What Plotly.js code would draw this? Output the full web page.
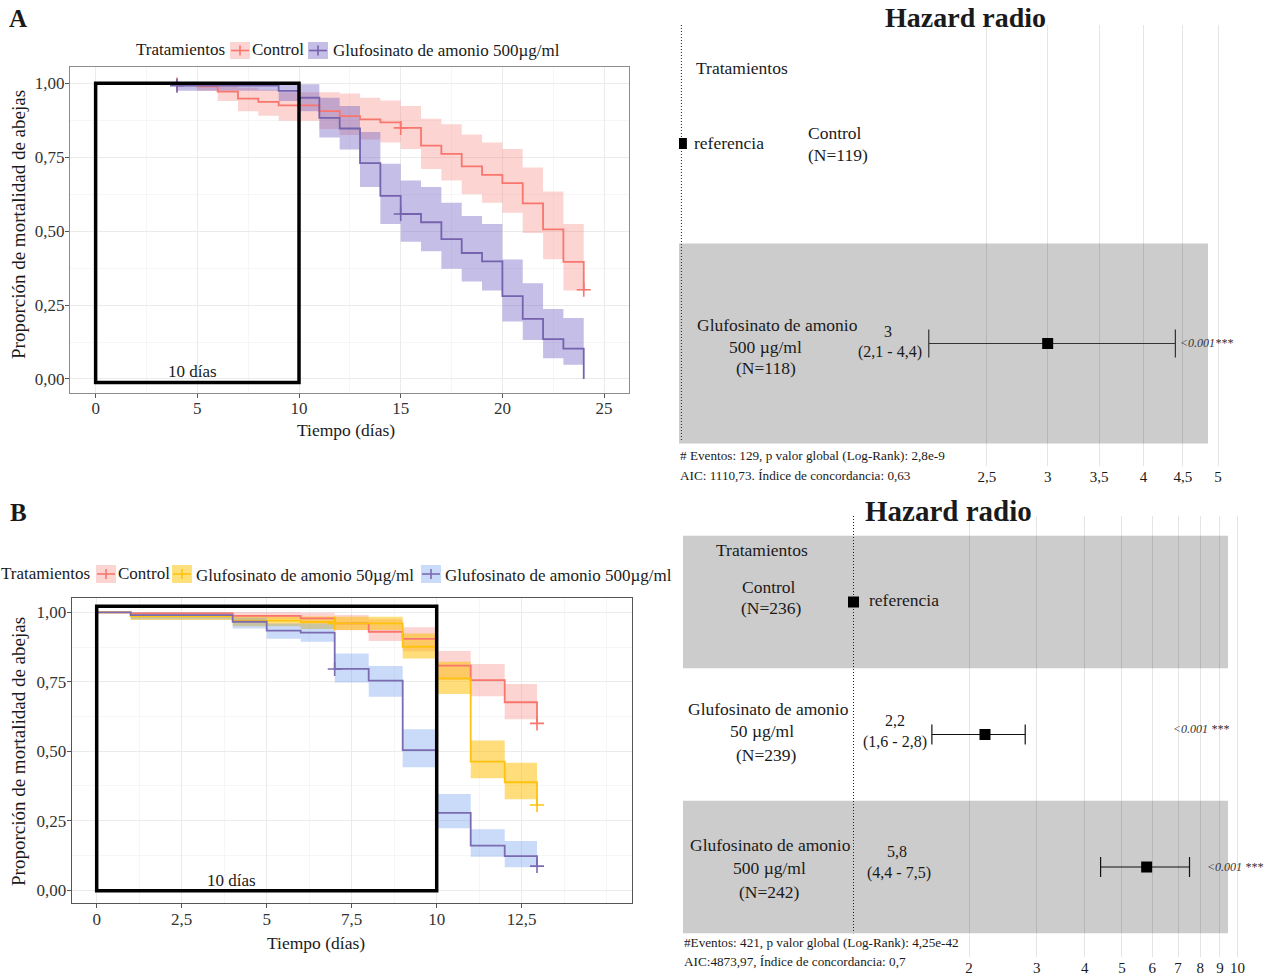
<!DOCTYPE html>
<html><head><meta charset="utf-8">
<script src="https://cdn.plot.ly/plotly-3.0.1.min.js"></script>
<style>html,body{margin:0;padding:0;background:#fff;} #chart{width:1279px;height:976px;}</style>
</head><body><div id="chart"></div>
<script>
// ================= DATA =================
// Panel A – Kaplan-Meier (time in days, survival proportion)
const timeA_ctrl = [0, 4, 5, 6, 7, 8, 9, 11, 12, 13, 14, 15, 16, 17, 18, 19, 20, 21, 22, 23, 24];
const survA_ctrl = [1.0, 0.996, 0.99, 0.972, 0.948, 0.937, 0.925, 0.906, 0.889, 0.878, 0.868, 0.849, 0.789, 0.761, 0.719, 0.690, 0.662, 0.594, 0.506, 0.396, 0.302];
const upA_ctrl   = [1.0, 1.0, 1.0, 0.993, 0.985, 0.978, 0.970, 0.970, 0.965, 0.951, 0.942, 0.923, 0.880, 0.861, 0.827, 0.800, 0.778, 0.715, 0.634, 0.524, 0.524];
const loA_ctrl   = [1.0, 0.99, 0.975, 0.94, 0.905, 0.89, 0.873, 0.845, 0.825, 0.81, 0.80, 0.778, 0.710, 0.671, 0.625, 0.596, 0.562, 0.494, 0.405, 0.299, 0.299];
const censTimeA_ctrl = [4, 15, 24];
const censSurvA_ctrl = [0.996, 0.849, 0.302];

const timeA_500 = [0, 4, 9, 10, 11, 12, 13, 14, 15, 16, 17, 18, 19, 20, 21, 22, 23, 24];
const survA_500 = [1.0, 0.992, 0.974, 0.951, 0.883, 0.847, 0.730, 0.619, 0.558, 0.530, 0.473, 0.426, 0.398, 0.280, 0.203, 0.135, 0.103, 0.0];
const upA_500   = [1.0, 1.0, 1.0, 0.997, 0.951, 0.923, 0.835, 0.728, 0.671, 0.649, 0.596, 0.551, 0.524, 0.404, 0.324, 0.237, 0.206, 0.206];
const loA_500   = [1.0, 0.975, 0.940, 0.905, 0.817, 0.776, 0.649, 0.524, 0.464, 0.432, 0.373, 0.330, 0.299, 0.194, 0.132, 0.070, 0.048, 0.048];
const censTimeA_500 = [4, 15];
const censSurvA_500 = [0.992, 0.558];

// Panel B – Kaplan-Meier
const timeB_ctrl = [0, 1, 4, 6, 7, 8, 9, 10, 11, 12, 12.95];
const survB_ctrl = [1.0, 0.996, 0.987, 0.978, 0.960, 0.930, 0.904, 0.808, 0.756, 0.676, 0.600];
const upB_ctrl   = [1.0, 1.0, 1.0, 0.998, 0.99, 0.975, 0.946, 0.861, 0.814, 0.742, 0.742];
const loB_ctrl   = [1.0, 0.99, 0.975, 0.96, 0.935, 0.897, 0.86, 0.756, 0.698, 0.615, 0.615];
const censTimeB_ctrl = [12.95];
const censSurvB_ctrl = [0.600];

const timeB_50 = [0, 1, 4, 6, 7, 9, 10, 11, 12, 12.95];
const survB_50 = [1.0, 0.985, 0.970, 0.965, 0.960, 0.876, 0.762, 0.462, 0.388, 0.306];
const upB_50   = [1.0, 0.998, 0.99, 0.985, 0.984, 0.924, 0.822, 0.538, 0.458, 0.458];
const loB_50   = [1.0, 0.972, 0.95, 0.94, 0.936, 0.834, 0.706, 0.402, 0.327, 0.327];
const censTimeB_50 = [7, 12.95];
const censSurvB_50 = [0.960, 0.306];

const timeB_500 = [0, 1, 4, 5, 6, 7, 8, 9, 10, 11, 12, 12.95];
const survB_500 = [1.0, 0.99, 0.966, 0.934, 0.927, 0.796, 0.754, 0.504, 0.278, 0.160, 0.122, 0.086];
const upB_500   = [1.0, 1.0, 0.98, 0.96, 0.96, 0.852, 0.807, 0.579, 0.346, 0.219, 0.176, 0.176];
const loB_500   = [1.0, 0.975, 0.942, 0.905, 0.894, 0.747, 0.696, 0.442, 0.222, 0.120, 0.082, 0.082];
const censTimeB_500 = [7, 12.95];
const censSurvB_500 = [0.796, 0.086];

const windowDays = 10;

// KM tick labels
const kmYTicks = [0, 0.25, 0.5, 0.75, 1];
const kmYLabels = ['0,00', '0,25', '0,50', '0,75', '1,00'];
const kmXTicksA = [0, 5, 10, 15, 20, 25];
const kmXLabelsA = ['0', '5', '10', '15', '20', '25'];
const kmXTicksB = [0, 2.5, 5, 7.5, 10, 12.5];
const kmXLabelsB = ['0', '2,5', '5', '7,5', '10', '12,5'];

// Forest A (hazard ratios)
const hrNamesA = ['Control', 'Glufosinato de amonio'];
const hrDoseA  = ['', '500 µg/ml'];
const hrNA     = [119, 118];
const hrA      = [1, 3];
const hrLowA   = [null, 2.1];
const hrHighA  = [null, 4.4];
const hrPA     = [null, '<0.001***'];
const hrTicksA = [2.5, 3, 3.5, 4, 4.5, 5];
const hrTickLabelsA = ['2,5', '3', '3,5', '4', '4,5', '5'];
const statsA = ['# Eventos: 129, p valor global (Log-Rank): 2,8e-9', 'AIC: 1110,73. Índice de concordancia: 0,63'];

// Forest B
const hrNamesB = ['Control', 'Glufosinato de amonio', 'Glufosinato de amonio'];
const hrDoseB  = ['', '50 µg/ml', '500 µg/ml'];
const hrNB     = [236, 239, 242];
const hrB      = [1, 2.2, 5.8];
const hrLowB   = [null, 1.6, 4.4];
const hrHighB  = [null, 2.8, 7.5];
const hrPB     = [null, '<0.001 ***', '<0.001 ***'];
const hrTicksB = [2, 3, 4, 5, 6, 7, 8, 9, 10];
const hrTickLabelsB = ['2', '3', '4', '5', '6', '7', '8', '9', '10'];
const statsB = ['#Eventos: 421, p valor global (Log-Rank): 4,25e-42', 'AIC:4873,97, Índice de concordancia: 0,7'];

const legendNamesA = ['Control', 'Glufosinato de amonio 500µg/ml'];
const legendNamesB = ['Control', 'Glufosinato de amonio 50µg/ml', 'Glufosinato de amonio 500µg/ml'];

// ================= STYLE / HELPERS =================
const W = 1279, H = 976;
const px = v => v / W;
const py = v => 1 - v / H;
const FONT = '"Liberation Serif", "Times New Roman", serif';
const TXT = '#1a1a1a';
const RED = '#F8766D', RED_BAND = 'rgba(245,115,108,0.3)', RED_KEY = '#fcd5d3';
const PUR_A = '#7563AE', PUR_A_BAND = 'rgba(110,92,192,0.4)', PUR_A_KEY = '#c5bee6';
const YEL = '#FFC20E', YEL_BAND = 'rgba(253,190,0,0.52)', YEL_KEY = '#fee07a';
const PUR_B = '#7B6BB0', BLU_BAND = 'rgba(104,152,241,0.35)', BLU_KEY = '#cadbfa';
const FS = 17.5; // forest label size

function band(t, up, lo, fill, xa, ya) {
  return [
    {x: t, y: up, xaxis: xa, yaxis: ya, mode: 'lines', line: {shape: 'hv', width: 0, color: 'rgba(0,0,0,0)'}, showlegend: false, hoverinfo: 'skip'},
    {x: t, y: lo, xaxis: xa, yaxis: ya, mode: 'lines', line: {shape: 'hv', width: 0, color: 'rgba(0,0,0,0)'}, fill: 'tonexty', fillcolor: fill, showlegend: false, hoverinfo: 'skip'}
  ];
}
function step(t, s, color, xa, ya) {
  return {x: t, y: s, xaxis: xa, yaxis: ya, mode: 'lines', line: {shape: 'hv', color: color, width: 1.8}, showlegend: false, hoverinfo: 'skip'};
}
function censor(t, s, color, xa, ya) {
  return {x: t, y: s, xaxis: xa, yaxis: ya, mode: 'markers', marker: {symbol: 'cross-thin', size: 10, color: color, line: {width: 1.6, color: color}}, showlegend: false, hoverinfo: 'skip'};
}
function ann(text, x, y, size, anchor, extra) {
  return Object.assign({text: text, x: px(x), y: py(y), xref: 'paper', yref: 'paper', showarrow: false,
    xanchor: anchor || 'center', yanchor: 'middle', font: {family: FONT, size: size || 17, color: TXT}}, extra || {});
}
const fmt = v => String(v).replace('.', ',');

// ================= TRACES =================
const traces = [];
// Panel A
traces.push(...band(timeA_ctrl, upA_ctrl, loA_ctrl, RED_BAND, 'x', 'y'));
traces.push(...band(timeA_500, upA_500, loA_500, PUR_A_BAND, 'x', 'y'));
traces.push(step(timeA_ctrl, survA_ctrl, RED, 'x', 'y'));
traces.push(step(timeA_500, survA_500, PUR_A, 'x', 'y'));
traces.push(censor(censTimeA_ctrl, censSurvA_ctrl, RED, 'x', 'y'));
traces.push(censor(censTimeA_500, censSurvA_500, PUR_A, 'x', 'y'));
// Panel B
traces.push(...band(timeB_ctrl, upB_ctrl, loB_ctrl, RED_BAND, 'x2', 'y2'));
traces.push(...band(timeB_50, upB_50, loB_50, YEL_BAND, 'x2', 'y2'));
traces.push(...band(timeB_500, upB_500, loB_500, BLU_BAND, 'x2', 'y2'));
traces.push(step(timeB_ctrl, survB_ctrl, RED, 'x2', 'y2'));
traces.push(step(timeB_50, survB_50, YEL, 'x2', 'y2'));
traces.push(step(timeB_500, survB_500, PUR_B, 'x2', 'y2'));
traces.push(censor(censTimeB_ctrl, censSurvB_ctrl, RED, 'x2', 'y2'));
traces.push(censor(censTimeB_50, censSurvB_50, YEL, 'x2', 'y2'));
traces.push(censor(censTimeB_500, censSurvB_500, PUR_B, 'x2', 'y2'));

// Forest plots
function forestTraces(hr, lo, hi, xa, ya, yTop, yBot, capW, ciColor) {
  const rows = hr.map((_, i) => i);
  const out = [];
  out.push({x: [1, 1], y: [yTop, yBot], xaxis: xa, yaxis: ya, mode: 'lines', line: {color: '#222', width: 1, dash: '1px,2px'}, showlegend: false, hoverinfo: 'skip'});
  const idx = rows.filter(i => lo[i] !== null);
  out.push({x: idx.map(i => hr[i]), y: idx, xaxis: xa, yaxis: ya, mode: 'markers',
    marker: {symbol: 'square', size: 11, color: '#000'},
    error_x: {type: 'data', symmetric: false, array: idx.map(i => hi[i] - hr[i]), arrayminus: idx.map(i => hr[i] - lo[i]), color: ciColor, thickness: 1.2, width: capW},
    showlegend: false, hoverinfo: 'skip'});
  const ref = rows.filter(i => lo[i] === null);
  out.push({x: ref.map(i => hr[i]), y: ref, xaxis: xa, yaxis: ya, mode: 'markers', marker: {symbol: 'square', size: 11, color: '#000'}, showlegend: false, hoverinfo: 'skip'});
  return out;
}
traces.push(...forestTraces(hrA, hrLowA, hrHighA, 'x3', 'y3', -0.5925, 1.49, 14, '#333'));
traces.push(...forestTraces(hrB, hrLowB, hrHighB, 'x4', 'y4', -0.649, 2.5, 10, '#111'));

// ================= LAYOUT =================
const tickFont = {family: FONT, size: 17, color: '#333'};
const kmAxis = (dom, range, tv, tt, minor, lineColor, anchor, standoff) => ({
  domain: dom, range: range, tickmode: 'array', tickvals: tv, ticktext: tt, ticks: 'outside', ticklen: 4, tickcolor: '#555',
  ticklabelstandoff: standoff,
  showline: true, mirror: true, linecolor: lineColor, linewidth: 1, showgrid: true, gridcolor: '#ebebeb', gridwidth: 1, zeroline: false,
  minor: {tickmode: 'array', tickvals: minor, showgrid: true, gridcolor: '#f2f2f2', gridwidth: 0.7, ticks: ''},
  tickfont: tickFont, anchor: anchor, fixedrange: true
});
const kmYminor = [0.125, 0.375, 0.625, 0.875];

const shapes = [
  {type: 'rect', xref: 'x', yref: 'y', x0: 0, x1: windowDays, y0: -0.012, y1: 1, line: {color: '#000', width: 3.5}, fillcolor: 'rgba(0,0,0,0)', layer: 'above'},
  {type: 'rect', xref: 'x2', yref: 'y2', x0: 0, x1: windowDays, y0: -0.003, y1: 1.022, line: {color: '#000', width: 3.5}, fillcolor: 'rgba(0,0,0,0)', layer: 'above'},
  {type: 'rect', xref: 'x3 domain', yref: 'y3', x0: 0, x1: 0.943, y0: 0.5, y1: 1.5, fillcolor: '#cccccc', line: {width: 0}, layer: 'below'},
  {type: 'rect', xref: 'x4 domain', yref: 'y4', x0: 0, x1: 0.9698, y0: -0.5, y1: 0.5, fillcolor: '#cccccc', line: {width: 0}, layer: 'below'},
  {type: 'rect', xref: 'x4 domain', yref: 'y4', x0: 0, x1: 0.9698, y0: 1.5, y1: 2.5, fillcolor: '#cccccc', line: {width: 0}, layer: 'below'}
];

function legendKey(x0, x1, y0, y1, fill, lineColor) {
  const cx = (x0 + x1) / 2, cy = (y0 + y1) / 2;
  shapes.push({type: 'rect', xref: 'paper', yref: 'paper', x0: px(x0), x1: px(x1), y0: py(y1), y1: py(y0), fillcolor: fill, line: {width: 0}});
  shapes.push({type: 'line', xref: 'paper', yref: 'paper', x0: px(x0 + 1), x1: px(x1 - 1), y0: py(cy), y1: py(cy), line: {color: lineColor, width: 1.6}});
  shapes.push({type: 'line', xref: 'paper', yref: 'paper', x0: px(cx), x1: px(cx), y0: py(cy - 5), y1: py(cy + 5), line: {color: lineColor, width: 1.6}});
}
legendKey(230, 250, 42, 59, RED_KEY, RED);
legendKey(308, 328, 42, 59, PUR_A_KEY, PUR_A);
legendKey(96, 116, 565, 583, RED_KEY, RED);
legendKey(172, 192, 565, 583, YEL_KEY, YEL);
legendKey(421, 441, 565, 583, BLU_KEY, PUR_B);

const annotations = [
  ann('<b>A</b>', 18, 19, 25),
  ann('<b>B</b>', 18, 512, 25),
  // legends
  ann('Tratamientos', 134, 49, 17, 'left'),
  ann(legendNamesA[0], 250, 49, 17, 'left'),
  ann(legendNamesA[1], 331, 50, 17, 'left'),
  ann('Tratamientos', -1, 573, 17, 'left'),
  ann(legendNamesB[0], 116, 573, 17, 'left'),
  ann(legendNamesB[1], 194, 575, 17, 'left'),
  ann(legendNamesB[2], 443, 575, 17, 'left'),
  // axis titles
  ann('Proporción de mortalidad de abejas', 18, 225, 19, 'center', {textangle: -90}),
  ann('Proporción de mortalidad de abejas', 18, 752, 19, 'center', {textangle: -90}),
  ann('Tiempo (días)', 346, 430, 17.5),
  ann('Tiempo (días)', 316, 943, 17.5),
  ann(windowDays + ' días', 192, 371, 17),
  ann(windowDays + ' días', 231, 880, 17),
  // forest titles
  ann('<b>Hazard radio</b>', 965, 18, 28),
  ann('<b>Hazard radio</b>', 948, 511, 29),
  // forest A
  ann('Tratamientos', 694, 68, FS, 'left'),
  ann('referencia', 692, 143, FS, 'left'),
  ann(hrNamesA[0], 806, 133, FS, 'left'),
  ann('(N=' + hrNA[0] + ')', 806, 155, FS, 'left'),
  ann(hrNamesA[1], 777, 325, FS),
  ann(hrDoseA[1], 765, 347, FS),
  ann('(N=' + hrNA[1] + ')', 766, 368, FS),
  ann(fmt(hrA[1]), 888, 331, 16),
  ann('(' + fmt(hrLowA[1]) + ' - ' + fmt(hrHighA[1]) + ')', 890, 352, 16),
  ann('<i>' + hrPA[1] + '</i>', 1178, 343, 12, 'left', {font: {family: FONT, size: 12, color: '#333'}}),
  ann(statsA[0], 678, 456, 13.2, 'left'),
  ann(statsA[1], 678, 475, 13.2, 'left'),
  // forest B
  ann('Tratamientos', 714, 550, FS, 'left'),
  ann(hrNamesB[0], 769, 587, FS),
  ann('(N=' + hrNB[0] + ')', 771, 608, FS),
  ann('referencia', 867, 600, FS, 'left'),
  ann(hrNamesB[1], 768, 709, FS),
  ann(hrDoseB[1], 762, 731, FS),
  ann('(N=' + hrNB[1] + ')', 766, 755, FS),
  ann(fmt(hrB[1]), 895, 720, 16),
  ann('(' + fmt(hrLowB[1]) + ' - ' + fmt(hrHighB[1]) + ')', 895, 742, 16),
  ann('<i>' + hrPB[1] + '</i>', 1171, 729, 12, 'left', {font: {family: FONT, size: 12, color: '#333'}}),
  ann(hrNamesB[2], 770, 845, FS),
  ann(hrDoseB[2], 769, 868, FS),
  ann('(N=' + hrNB[2] + ')', 769, 892, FS),
  ann(fmt(hrB[2]), 897, 851, 16),
  ann('(' + fmt(hrLowB[2]) + ' - ' + fmt(hrHighB[2]) + ')', 899, 873, 16),
  ann('<i>' + hrPB[2] + '</i>', 1205, 867, 12, 'left', {font: {family: FONT, size: 12, color: '#333'}}),
  ann(statsB[0], 682, 942, 13.2, 'left'),
  ann(statsB[1], 682, 961, 13.2, 'left')
];

const layout = {
  width: W, height: 976, margin: {l: 0, r: 0, t: 0, b: 0}, showlegend: false,
  paper_bgcolor: '#fff', plot_bgcolor: '#fff', separators: ', ',
  font: {family: FONT, color: TXT},
  xaxis: kmAxis([px(70), px(629.3)], [-1.26, 26.24], kmXTicksA, kmXLabelsA, [2.5, 7.5, 12.5, 17.5, 22.5], '#8c8c8c', 'y', -5),
  yaxis: kmAxis([py(393.3), py(67.3)], [-0.0484, 1.054], kmYTicks, kmYLabels, kmYminor, '#8c8c8c', 'x', -3),
  xaxis2: kmAxis([px(71.7), px(631.7)], [-0.735, 15.735], kmXTicksB, kmXLabelsB, [1.25, 3.75, 6.25, 8.75, 11.25, 13.75, 15], '#555', 'y2', -4),
  yaxis2: kmAxis([py(903.3), py(598.3)], [-0.0479, 1.0504], kmYTicks, kmYLabels, kmYminor, '#555', 'x2', -3),
  xaxis3: {type: 'log', domain: [px(679), px(1240)], range: [-0.003126, 0.72763], tickmode: 'array', tickvals: hrTicksA, ticktext: hrTickLabelsA,
    showgrid: true, gridcolor: 'rgba(0,0,0,0.1)', gridwidth: 1, zeroline: false, showline: false, ticks: '',
    tickfont: {family: FONT, size: 15, color: TXT}, anchor: 'y3', fixedrange: true},
  yaxis3: {domain: [py(466), py(25)], range: [1.6125, -0.5925], visible: false, anchor: 'x3', fixedrange: true},
  xaxis4: {type: 'log', domain: [px(683), px(1245)], range: [-0.44401, 1.01953], tickmode: 'array', tickvals: hrTicksB, ticktext: hrTickLabelsB,
    showgrid: true, gridcolor: 'rgba(0,0,0,0.1)', gridwidth: 1, zeroline: false, showline: false, ticks: '',
    tickfont: {family: FONT, size: 15, color: TXT}, anchor: 'y4', fixedrange: true},
  yaxis4: {domain: [py(957), py(516)], range: [2.679, -0.649], visible: false, anchor: 'x4', fixedrange: true},
  shapes: shapes,
  annotations: annotations
};

Plotly.newPlot('chart', traces, layout, {displayModeBar: false, staticPlot: true});
</script>
</body></html>
